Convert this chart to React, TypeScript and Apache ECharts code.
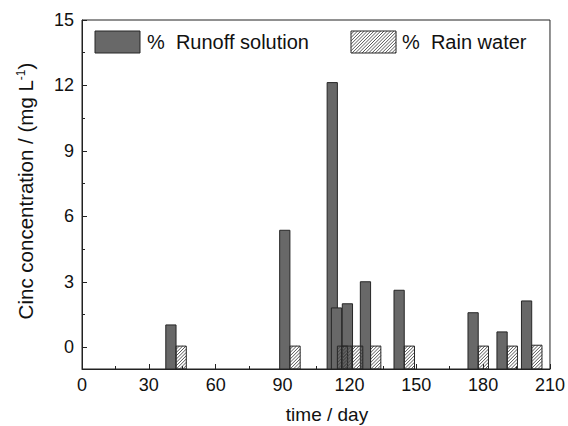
import React, { useEffect, useRef } from "react";
import * as echarts from "echarts";

const days = [42.2, 93.3, 114.6, 116.5, 121.4, 129.5, 144.6, 177.8, 190.8, 201.8];
const runoff = [1.02, 5.36, 12.13, 1.8, 1.99, 3.0, 2.61, 1.58, 0.7, 2.12];
const rain = [0.05, 0.05, 0.05, 0.05, 0.05, 0.05, 0.05, 0.05, 0.05, 0.09];
const yLabels = [0, 3, 6, 9, 12, 15];
const yMinor = [1.5, 4.5, 7.5, 10.5, 13.5];

const Y_MIN = -1;
const Y_MAX = 15;
const BAR_DAYS = 4.6;
const FONT = "'Liberation Sans', Arial, sans-serif";

function hatchLines(x0: number, y0: number, w: number, h: number, step: number) {
  const lines: any[] = [];
  for (let c = -h; c < w; c += step) {
    const t0 = Math.max(0, -c);
    const t1 = Math.min(h, w - c);
    if (t1 <= t0) continue;
    lines.push({
      type: "line",
      shape: { x1: x0 + c + t0, y1: y0 + h - t0, x2: x0 + c + t1, y2: y0 + h - t1 },
      style: { stroke: "#444", lineWidth: 0.9 },
      silent: true,
    });
  }
  return lines;
}

export default function App() {
  const ref = useRef<HTMLDivElement>(null);
  useEffect(() => {
    if (!ref.current) return;
    const chart = echarts.init(ref.current, null, { renderer: "svg" });
    const runoffData = days.map((d, i) => [d, runoff[i]]);
    const rainData = days.map((d, i) => [d, rain[i]]);

    const makeRender = (side: "left" | "right") => (params: any, api: any) => {
      const d = api.value(0);
      const v = api.value(1);
      const top = api.coord([d, v]);
      const base = api.coord([d, Y_MIN]);
      const w = api.size([BAR_DAYS, 0])[0];
      const x = side === "left" ? top[0] - w : top[0];
      const y = top[1];
      const h = base[1] - top[1];
      if (side === "left") {
        return {
          type: "rect",
          shape: { x, y, width: w, height: h },
          style: { fill: "#686868", stroke: "#262626", lineWidth: 1 },
        };
      }
      return {
        type: "group",
        children: [
          ...hatchLines(x, y, w, h, 3.3),
          {
            type: "rect",
            shape: { x, y, width: w, height: h },
            style: { fill: "none", stroke: "#262626", lineWidth: 1 },
          },
        ],
      };
    };

    const legendHatch = hatchLines(351, 31, 45, 22, 3.3);

    chart.setOption({
      animation: false,
      backgroundColor: "#fff",
      grid: {
        left: 82,
        right: 18,
        top: 20,
        bottom: 57,
        show: true,
        borderColor: "#222",
        borderWidth: 1,
        backgroundColor: "transparent",
      },
      xAxis: {
        type: "value",
        min: 0,
        max: 210,
        interval: 30,
        axisLine: { show: true, onZero: false, lineStyle: { color: "#222", width: 1 } },
        axisTick: { show: true, inside: true, length: 5, lineStyle: { color: "#222" } },
        minorTick: { show: true, splitNumber: 2, length: 3, lineStyle: { color: "#222" } },
        splitLine: { show: false },
        axisLabel: { fontSize: 18, color: "#111", fontFamily: FONT, margin: 7 },
      },
      yAxis: [
        {
          type: "value",
          min: Y_MIN,
          max: Y_MAX,
          axisLine: { show: true, onZero: false, lineStyle: { color: "#222", width: 1 } },
          axisTick: {
            show: true,
            inside: true,
            length: 5,
            customValues: yLabels,
            lineStyle: { color: "#222" },
          },
          axisLabel: {
            fontSize: 18,
            color: "#111",
            fontFamily: FONT,
            margin: 8,
            customValues: yLabels,
          },
          splitLine: { show: false },
        },
        {
          type: "value",
          min: Y_MIN,
          max: Y_MAX,
          position: "left",
          axisLine: { show: false, onZero: false },
          axisTick: {
            show: true,
            inside: true,
            length: 3,
            customValues: yMinor,
            lineStyle: { color: "#222" },
          },
          axisLabel: { show: false, customValues: yMinor },
          splitLine: { show: false },
        },
      ],
      series: [
        {
          name: "% Runoff solution",
          type: "custom",
          renderItem: makeRender("left"),
          data: runoffData,
          encode: { x: 0, y: 1 },
          clip: true,
        },
        {
          name: "% Rain water",
          type: "custom",
          renderItem: makeRender("right"),
          data: rainData,
          encode: { x: 0, y: 1 },
          clip: true,
        },
      ],
      graphic: [
        {
          type: "rect",
          shape: { x: 95, y: 31, width: 45, height: 22 },
          style: { fill: "#686868", stroke: "#262626", lineWidth: 1 },
        },
        {
          type: "text",
          x: 147,
          y: 42,
          style: {
            text: "%  Runoff solution",
            font: `20px ${FONT}`,
            fill: "#111",
            verticalAlign: "middle",
            align: "left",
          },
        },
        ...legendHatch,
        {
          type: "rect",
          shape: { x: 351, y: 31, width: 45, height: 22 },
          style: { fill: "none", stroke: "#262626", lineWidth: 1 },
        },
        {
          type: "text",
          x: 402,
          y: 42,
          style: {
            text: "%  Rain water",
            font: `20px ${FONT}`,
            fill: "#111",
            verticalAlign: "middle",
            align: "left",
          },
        },
        {
          type: "text",
          x: 327,
          y: 414,
          style: {
            text: "time / day",
            font: `19px ${FONT}`,
            fill: "#111",
            align: "center",
            verticalAlign: "middle",
          },
        },
        {
          type: "text",
          x: 25,
          y: 191,
          rotation: Math.PI / 2,
          style: {
            text: "Cinc concentration / (mg L{sup|-1})",
            font: `20.5px ${FONT}`,
            fontSize: 20.5,
            fontFamily: FONT,
            fill: "#111",
            align: "center",
            verticalAlign: "middle",
            rich: {
              sup: { fontSize: 12, fontFamily: FONT, fill: "#111", verticalAlign: "top" },
            },
          },
        },
      ],
    });
    return () => chart.dispose();
  }, []);
  return <div ref={ref} style={{ width: 568, height: 426, position: "absolute", left: 0, top: 0 }} />;
}
